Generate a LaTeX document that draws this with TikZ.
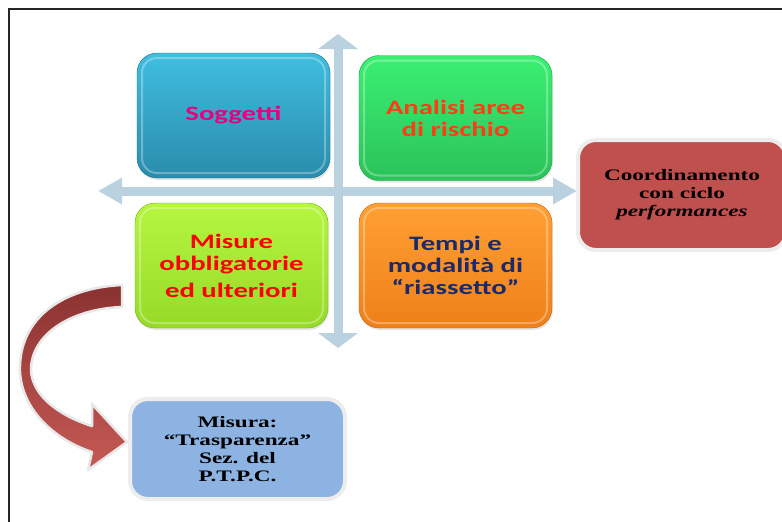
\documentclass[tikz,border=0pt]{standalone}
\usepackage{fontspec}
\usepackage{tikz}
\usetikzlibrary{arrows.meta,calc,shadows}
\newfontfamily\quadfont{Carlito}[FakeStretch=1.4]
\newfontfamily\ptpcfont{Liberation Serif}[FakeStretch=1.45]
\definecolor{soggTop}{HTML}{3FBEE0}
\definecolor{soggBot}{HTML}{2A8CAC}
\definecolor{soggText}{HTML}{E6007E}
\definecolor{rischioTop}{HTML}{3AF072}
\definecolor{rischioBot}{HTML}{2BC25A}
\definecolor{rischioText}{HTML}{FF3D14}
\definecolor{misureTop}{HTML}{B6F640}
\definecolor{misureBot}{HTML}{96DA28}
\definecolor{tempiTop}{HTML}{FFA034}
\definecolor{tempiBot}{HTML}{EE8019}
\definecolor{tempiText}{HTML}{1B2A6B}
\definecolor{ciclo}{HTML}{C0504D}
\definecolor{trasp}{HTML}{8DB3E2}
\definecolor{axis}{HTML}{BAD2E0}
\definecolor{curveTop}{HTML}{8A3230}
\definecolor{curveBot}{HTML}{C65A56}
\tikzset{
    quadBase/.style={
        rectangle,
        rounded corners=20pt,
        minimum width=193pt,
        minimum height=125pt,
        align=center,
        font=\quadfont\bfseries\fontsize{20.5}{22}\selectfont,
        drop shadow={opacity=0.2, shadow xshift=1pt, shadow yshift=-2pt},
        path picture={
            \draw[white, opacity=0.3, line width=2pt, rounded corners=15pt]
                ([shift={(5pt,-5pt)}]path picture bounding box.north west) rectangle
                ([shift={(-5pt,5pt)}]path picture bounding box.south east);
        }
    },
    % the four quadrants
    sogg/.style={quadBase, top color=soggTop, bottom color=soggBot, draw=soggBot!80!black, text=soggText},
    rischio/.style={quadBase, top color=rischioTop, bottom color=rischioBot, draw=rischioBot!80!black, text=rischioText},
    misure/.style={quadBase, top color=misureTop, bottom color=misureBot, draw=misureBot!80!black, text=red},
    tempi/.style={quadBase, top color=tempiTop, bottom color=tempiBot, draw=tempiBot!80!black, text=tempiText},
    % side boxes
    sideBase/.style={
        rectangle,
        rounded corners=18pt,
        draw=black!7,
        line width=4pt,
        align=center,
        text=black,
        font=\ptpcfont\bfseries\fontsize{16}{18}\selectfont
    },
    cicloBox/.style={sideBase, fill=ciclo, minimum width=208pt, minimum height=110pt},
    traspBox/.style={sideBase, fill=trasp, minimum width=215pt, minimum height=100pt},
    % arrows
    vAxis/.style={draw=axis, line width=9pt, {Triangle[width=39pt,length=15pt]}-{Triangle[width=39pt,length=15pt]}},
    hAxis/.style={draw=axis, line width=9pt, {Triangle[width=25pt,length=24pt]}-{Triangle[width=25pt,length=24pt]}},
    curveArrow/.style={top color=curveTop, bottom color=curveBot, draw=black!9, line width=2.5pt, line join=round}
}

\begin{document}
\begin{tikzpicture}[x=1pt, y=-1pt]
\useasboundingbox (0,0) rectangle (782,522);

% Frame
\draw[line width=1.3pt, black!85] (9,522) -- (9,9) -- (782,9);

% Axes
\coordinate (hLeft) at (98,191);
\coordinate (hRight) at (577,191);
\coordinate (vTop) at (338,34);
\coordinate (vBot) at (338,348);
\draw[hAxis] (hLeft) -- (hRight);
\draw[vAxis] (vTop) -- (vBot);

% Quadrants
\node[sogg] (soggetti) at (233.5,115.5) {Soggetti};
\node[rischio] (rischio) at (455.5,118) {Analisi aree\\di rischio};
\node[misure] (misure) at (231.5,265.5) {Misure\\obbligatorie\\[5pt]ed ulteriori};
\node[tempi] (tempi) at (455.5,265.5) {Tempi e\\modalità di\\“riassetto”};

% Side boxes
\node[cicloBox] (ciclo) at (682,195) {Coordinamento\\con ciclo\\\textit{performances}};
\node[traspBox] (trasp) at (237.5,449) {Misura:\\“Trasparenza”\\Sez. del\\P.T.P.C.};

% Curved arrow from misure to trasp
\filldraw[curveArrow] (122,285) .. controls (60,288) and (18,320) .. (20,372)
    .. controls (22,410) and (55,440) .. (92,452) -- (88,470) -- (127,442) -- (92,404) -- (92,426)
    .. controls (60,416) and (32,396) .. (31,370)
    .. controls (31,335) and (70,309) .. (122,307) -- cycle;
\end{tikzpicture}
\end{document}
